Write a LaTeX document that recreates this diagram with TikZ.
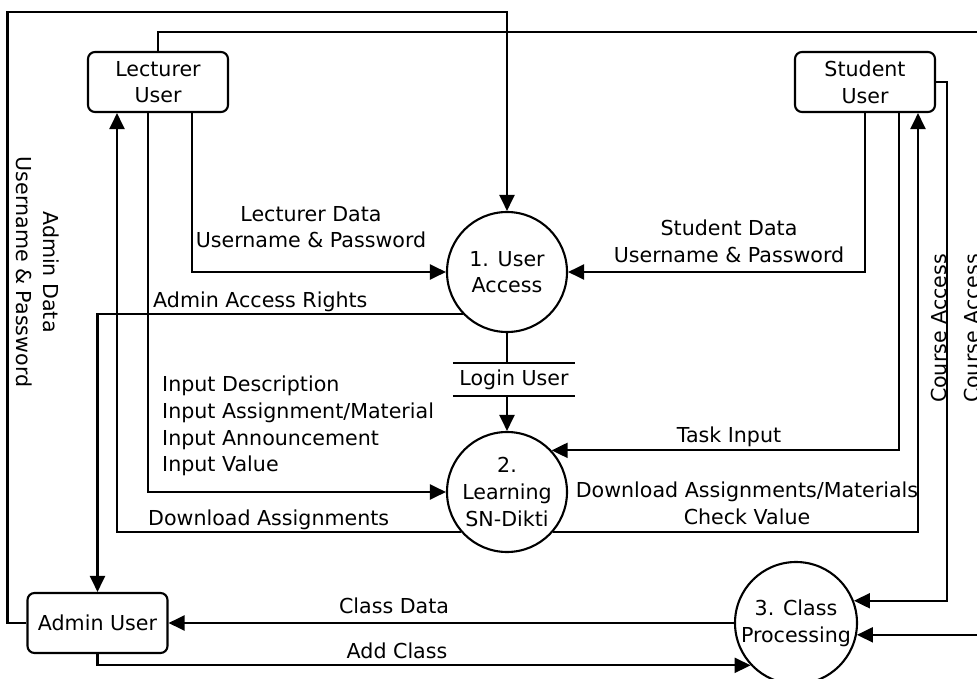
\documentclass[tikz,border=0pt]{standalone}
\usepackage{fontspec}
\setmainfont{DejaVu Sans}
\usetikzlibrary{arrows.meta}
\begin{document}
\begin{tikzpicture}[x=1pt,y=-1pt,
  every node/.style={font=\fontsize{20.6pt}{26.7pt}\selectfont},
  ent/.style={draw, rounded corners=7pt, minimum width=140pt, minimum height=60pt,
              align=center, inner sep=0pt, line width=2.1pt},
  proc/.style={draw, circle, minimum size=120pt, inner sep=0pt, align=center, line width=2.1pt},
  wire/.style={line width=2.1pt},
  flow/.style={line width=2.1pt, -{Triangle[length=16pt,width=15pt]}},
  lbl/.style={inner sep=0pt, align=center}]
% canvas
\fill[white] (0,0) rectangle (977,679);
\useasboundingbox (0,0) rectangle (977,679);

% external entities
\node[ent] (lec) at (158,82) {Lecturer\\User};
\node[ent] (stu) at (865,82) {Student\\User};
\node[ent] (adm) at (97.5,623) {Admin User};

% processes
\node[proc] (c1) at (507,272) {1. User\\Access};
\node[proc] (c2) at (507,492) {2.\\Learning\\SN-Dikti};
\node[proc, minimum size=122pt] (c3) at (796,623) {3. Class\\Processing};

% data store
\node[inner sep=0pt, minimum width=122pt, minimum height=33pt] (login) at (514,379.5) {Login User};
\draw[wire] (login.north west) -- (login.north east) (login.south west) -- (login.south east);

% routing corners
\coordinate (lpc) at (7.5,12);
\coordinate (trc) at (992,32);
\coordinate (src) at (947,82);

% admin login loop
\draw[flow] (adm.west) -| (lpc) -| (c1.north);
% lecturer course access
\draw[flow] (lec.north) |- (trc) |- (c3.-11.35);
% student course access
\draw[flow] (stu.east) -- (src) |- (c3.21.1);

% lecturer flows
\draw[flow] ([xshift=34pt]lec.south) |- (c1.west);
\draw[flow] ([xshift=-10pt]lec.south) |- (c2.west);
\draw[flow] (c2.221.8) -| ([xshift=-41pt]lec.south);

% admin access rights
\draw[flow] (c1.224.4) -| (adm.north);

% login store
\draw[wire] (c1.south) -- (c1.south |- login.north);
\draw[flow] (c2.north |- login.south) -- (c2.north);

% student flows
\draw[flow] (stu.south) |- (c1.east);
\draw[flow] ([xshift=34pt]stu.south) |- (c2.43.1);
\draw[flow] (c2.-41.8) -| ([xshift=53pt]stu.south);

% class processing and admin
\draw[flow] (c3.west) -- (c3.west -| adm.east);
\draw[flow] (adm.south) |- (c3.223.5);

% flow labels
\node[lbl] (tLD) at (311,227) {Lecturer Data\\Username \& Password};
\node[lbl] (tSD) at (729,241) {Student Data\\Username \& Password};
\node[lbl, anchor=base] (tTI) at (729,442) {Task Input};
\node[lbl] (tDM) at (747,503) {Download Assignments/Materials\\Check Value};
\node[lbl, anchor=base west] (tDA) at (148,525) {Download Assignments};
\node[lbl, anchor=base west] (tAR) at (153,307) {Admin Access Rights};
\node[lbl, align=left, anchor=west] (tIN) at (162,426) {Input Description\\Input Assignment/Material\\Input Announcement\\Input Value};
\node[lbl, rotate=-90] (tAD) at (38,272) {Admin Data\\Username \& Password};
\node[lbl, rotate=90, anchor=base] (tCA1) at (946,328.5) {Course Access};
\node[lbl, rotate=90, anchor=base] (tCA2) at (979,328.5) {Course Access};
\node[lbl, anchor=base] (tCD) at (394,613) {Class Data};
\node[lbl, anchor=base] (tAC) at (397,658) {Add Class};
\end{tikzpicture}
\end{document}
